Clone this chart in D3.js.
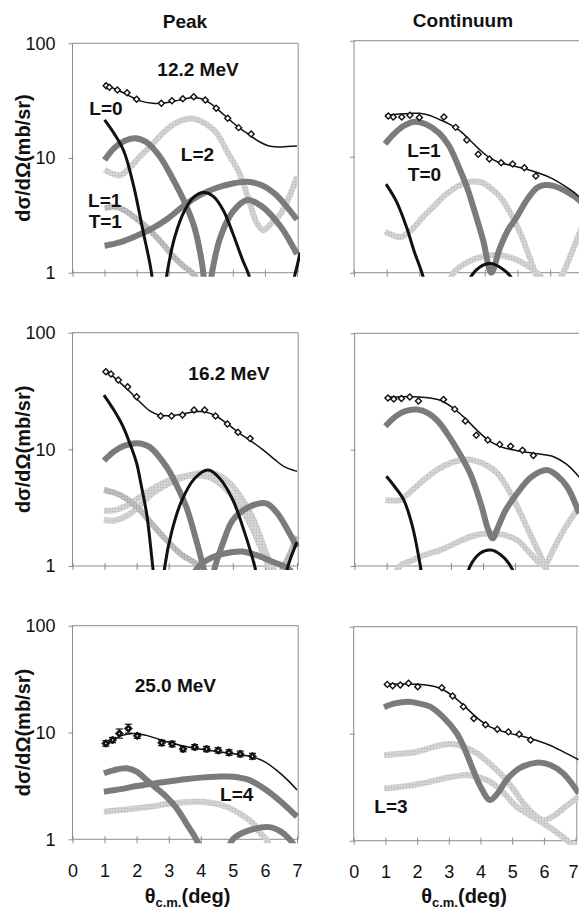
<!DOCTYPE html>
<html>
<head>
<meta charset="utf-8">
<script src="https://cdn.jsdelivr.net/npm/d3@7"></script>
<style>
  body { margin: 0; background: #fff; }
  text { font-family: "Liberation Sans", Arial, Helvetica, sans-serif; }
</style>
</head>
<body>
<svg id="chart" width="579" height="909"></svg>
<script>
// ---------------- measured angular distributions ----------------
// Peak, 12.2 MeV
const peak12Angles = [1.05, 1.15, 1.40, 1.70, 2.00, 2.77, 3.10, 3.44, 3.78, 4.14, 4.48, 4.84, 5.18, 5.57];
const peak12Values = [42.7, 41.3, 39.2, 37.1, 32.5, 30.0, 31.6, 32.9, 34.2, 32.0, 27.1, 22.2, 18.4, 16.2];
const peak12Total = [[1.0,45],[1.2,41.5],[1.5,38],[1.8,34.5],[2.1,31.5],[2.5,30],[2.9,30.3],[3.3,31.8],[3.7,33.5],[4.0,33],[4.3,30],[4.6,25.5],[4.9,21.5],[5.2,18.3],[5.5,16],[5.8,14],[6.1,12.8],[6.4,12.5],[6.7,12.6],[7.0,12.7]];
const peak12L0 = [[1.0,21.5],[1.3,16.3],[1.6,11.5],[1.9,5.8],[2.2,2.3],[2.45,1.05],[2.7,0.3],[2.95,1.0],[3.2,2.1],[3.5,3.5],[3.8,4.6],[4.1,5.0],[4.4,4.6],[4.7,3.5],[5.0,2.2],[5.3,1.3],[5.5,0.95],[5.9,0.3],[6.5,0.35],[6.95,1.0],[7.1,1.5]];
const peak12GrayA = [[1.0,9.6],[1.3,12.2],[1.6,14],[1.95,14.9],[2.3,13.8],[2.7,10.5],[3.1,6.8],[3.5,4.1],[3.8,2.5],[4.05,1.15],[4.2,0.5],[4.35,1.0],[4.6,2.0],[5.0,3.4],[5.45,4.3],[5.9,3.8],[6.5,2.5],[7.0,1.45]];
const peak12GrayB = [[1.0,1.72],[1.5,1.85],[2.0,2.1],[2.5,2.45],[3.0,3.0],[3.5,3.9],[4.0,4.8],[4.5,5.5],[5.0,6.0],[5.45,6.2],[5.9,5.8],[6.3,4.9],[6.6,4.0],[7.0,2.9]];
const peak12L2 = [[1.0,7.9],[1.25,7.3],[1.5,7.1],[1.8,8.3],[2.1,10.3],[2.45,12.8],[2.8,16.3],[3.2,20],[3.6,22],[3.9,21.5],[4.2,19.5],[4.5,16.4],[4.85,11],[5.2,7.4],[5.5,4.3],[5.75,2.7],[5.95,2.35],[6.15,2.6],[6.5,3.3],[6.8,4.9],[7.0,6.9]];
const peak12L1T1 = [[1.0,3.64],[1.3,3.75],[1.55,3.6],[1.9,3.1],[2.4,2.36],[2.8,1.8],[3.15,1.38],[3.45,1.15],[3.72,1.0],[4.0,0.8]];

// Continuum, 12.2 MeV
const cont12Angles = [1.05, 1.20, 1.46, 1.71, 2.00, 2.75, 3.11, 3.45, 3.80, 4.14, 4.50, 4.85, 5.21, 5.56];
const cont12Values = [22.4, 22.0, 22.0, 22.8, 21.8, 22.0, 17.9, 13.9, 10.5, 9.55, 8.87, 8.65, 8.04, 6.82];
const cont12Total = [[0.95,22.8],[1.3,23.2],[1.7,23.6],[2.0,23.7],[2.3,22.8],[2.6,21],[2.9,19.2],[3.2,17],[3.5,14.3],[3.8,11.8],[4.1,10],[4.4,9.0],[4.8,8.4],[5.2,7.9],[5.6,7.3],[6.0,6.6],[6.4,5.7],[6.7,5.0],[7.0,4.2]];
const cont12L1T0 = [[0.95,12.9],[1.2,15.5],[1.5,18.3],[1.85,20],[2.2,19],[2.6,16],[2.9,12.5],[3.2,8.2],[3.45,5.5],[3.7,3.3],[3.95,1.9],[4.2,1.0],[4.45,1.6],[4.7,2.3],[4.97,3.0],[5.3,4.3],[5.6,5.4],[5.85,5.7],[6.1,5.6],[6.5,5.0],[6.9,4.2],[7.0,3.9]];
const cont12Black = [[0.98,5.8],[1.3,4.1],[1.6,2.5],[1.85,1.5],[2.1,0.95],[2.4,0.4],[3.0,0.3],[3.55,0.9],[3.85,1.12],[4.16,1.2],[4.5,1.1],[4.82,0.9],[5.2,0.4]];
const cont12LightA = [[0.95,2.26],[1.2,2.1],[1.45,2.04],[1.8,2.4],[2.1,3.0],[2.45,3.75],[2.8,4.7],[3.2,5.6],[3.6,6.1],[3.9,6.0],[4.2,5.3],[4.5,4.4],[4.8,3.2],[5.1,2.15],[5.35,1.4],[5.6,0.9],[5.85,0.6],[6.1,0.7],[6.4,1.0],[6.7,1.6],[7.0,2.6]];
const cont12LightB = [[2.8,0.7],[3.05,1.0],[3.4,1.2],[3.8,1.35],[4.35,1.42],[4.8,1.35],[5.2,1.2],[5.5,1.05],[5.75,0.9],[6.0,0.7]];

// Peak, 16.2 MeV
const peak16Angles = [1.04, 1.20, 1.43, 1.72, 2.00, 2.75, 3.09, 3.43, 3.79, 4.12, 4.46, 4.83, 5.16, 5.54];
const peak16Values = [46.2, 44.2, 39.3, 34.4, 28.2, 19.3, 19.3, 19.7, 21.7, 21.7, 19.3, 16.5, 14.0, 12.4];
const peak16Total = [[0.98,47.8],[1.2,43.5],[1.5,37],[1.8,31],[2.1,25.5],[2.4,21.5],[2.7,19.7],[3.0,19.4],[3.4,20],[3.8,21],[4.1,21],[4.4,19.8],[4.8,16.8],[5.2,13.8],[5.6,11.6],[6.0,9.6],[6.3,8.2],[6.6,7.1],[6.9,6.6],[7.0,6.5]];
const peak16Black = [[0.98,29.2],[1.3,21.5],[1.58,15.6],[1.8,11],[2.0,7.6],[2.15,4.8],[2.31,2.83],[2.5,1.0],[2.7,0.3],[2.88,1.0],[3.1,2.0],[3.4,3.6],[3.8,5.6],[4.23,6.65],[4.6,5.6],[5.0,3.68],[5.35,2.0],[5.68,1.0],[6.0,0.4],[6.4,0.4],[6.72,1.0],[7.0,1.6]];
const peak16GrayA = [[0.98,8.0],[1.3,9.6],[1.6,10.7],[2.0,11.3],[2.4,10.5],[2.93,7.1],[3.25,4.9],[3.55,3.2],[3.8,1.9],[4.07,1.0],[4.25,0.6],[4.45,1.0],[4.7,1.6],[5.0,2.48],[5.5,3.2],[6.04,3.44],[6.4,2.8],[6.77,1.9],[7.0,1.45]];
const peak16GrayB = [[3.6,0.7],[3.95,1.0],[4.4,1.2],[5.0,1.32],[5.3,1.33],[5.8,1.22],[6.3,1.07],[6.65,0.98],[7.0,0.8]];
const peak16MidA = [[0.98,4.48],[1.3,4.25],[1.58,3.93],[2.1,3.02],[2.5,2.25],[2.93,1.67],[3.4,1.25],[3.97,1.0],[4.3,0.8]];
const peak16MidB = [[6.3,0.7],[6.6,1.0],[6.85,1.4],[7.0,1.8]];
const peak16LightA = [[0.98,2.98],[1.3,3.0],[1.7,3.3],[2.1,3.9],[2.5,4.6],[3.0,5.4],[3.5,5.9],[3.9,6.0],[4.3,5.7],[4.7,4.8],[5.1,3.6],[5.5,2.4],[5.8,1.6],[6.1,1.0],[6.4,0.6]];
const peak16LightB = [[0.98,2.48],[1.3,2.45],[1.7,2.7],[2.1,3.3],[2.5,4.2],[3.0,5.1],[3.5,5.8],[4.0,6.3],[4.3,6.35],[4.7,5.7],[5.0,4.8],[5.3,3.7],[5.6,2.65],[5.85,1.8],[6.04,1.28],[6.3,0.9],[6.5,0.6]];

// Continuum, 16.2 MeV
const cont16Angles = [1.04, 1.22, 1.46, 1.72, 1.99, 2.77, 3.12, 3.45, 3.79, 4.15, 4.52, 4.86, 5.23, 5.57];
const cont16Values = [27.8, 27.3, 27.5, 28.4, 26.2, 27.0, 22.3, 17.6, 13.3, 12.1, 11.1, 10.7, 9.9, 8.9];
const cont16Total = [[0.96,28.4],[1.3,28.4],[1.7,28.6],[2.0,28.4],[2.35,27.8],[2.67,26.6],[3.0,23.5],[3.4,19.1],[3.8,14.8],[4.23,11.7],[4.6,10.5],[5.0,9.9],[5.27,9.6],[5.7,9.2],[6.2,8.7],[6.6,7.5],[7.0,5.8]];
const cont16Gray = [[0.96,15.9],[1.3,19.5],[1.6,21.5],[1.94,22.1],[2.3,20.5],[2.6,17.5],[2.88,13.8],[3.2,10],[3.6,6.25],[3.95,3.3],[4.15,2.1],[4.3,1.73],[4.45,2.1],[4.7,3.0],[5.06,4.2],[5.5,5.8],[5.99,6.67],[6.3,6.0],[6.62,4.8],[7.0,2.83]];
const cont16Black = [[0.99,5.9],[1.25,4.8],[1.53,3.7],[1.8,2.2],[2.05,1.0],[2.3,0.4],[3.0,0.3],[3.6,1.0],[3.9,1.28],[4.23,1.37],[4.55,1.25],[4.9,0.95],[5.3,0.4]];
const cont16LightA = [[0.96,3.69],[1.2,3.65],[1.42,3.69],[1.8,4.5],[2.15,5.47],[2.6,6.8],[3.0,7.7],[3.3,8.1],[3.6,8.2],[4.0,7.6],[4.45,6.25],[4.8,4.5],[5.17,2.83],[5.5,1.8],[5.75,1.3],[5.94,1.05],[6.2,1.4],[6.5,2.0],[6.8,2.7],[7.0,3.23]];
const cont16LightB = [[1.2,0.8],[1.42,1.0],[1.8,1.12],[2.2,1.25],[2.67,1.37],[3.2,1.6],[3.7,1.82],[4.23,1.91],[4.65,1.85],[5.06,1.67],[5.4,1.35],[5.7,1.1],[5.9,1.0],[6.1,0.8]];

// Peak, 25.0 MeV (with error bars)
const peak25Angles = [1.04, 1.25, 1.46, 1.74, 2.02, 2.78, 3.11, 3.45, 3.81, 4.18, 4.54, 4.88, 5.23, 5.61];
const peak25Values = [7.9, 8.5, 9.8, 10.9, 9.3, 8.0, 7.8, 7.0, 7.3, 7.0, 6.8, 6.5, 6.3, 6.0];
const peak25Errors = [0.3, 0.3, 0.75, 0.8, 0.3, 0.3, 0.3, 0.25, 0.25, 0.25, 0.25, 0.25, 0.25, 0.25];
const peak25Total = [[0.98,7.6],[1.2,8.3],[1.5,9.3],[1.89,9.8],[2.3,9.4],[2.72,8.6],[3.2,7.8],[3.6,7.3],[3.97,7.0],[4.4,6.7],[4.8,6.45],[5.2,6.2],[5.63,5.9],[6.0,5.3],[6.35,4.46],[6.7,3.6],[7.0,2.9]];
const peak25GrayA = [[0.98,4.15],[1.3,4.45],[1.69,4.62],[2.0,4.3],[2.31,3.59],[2.62,3.0],[2.93,2.5],[3.25,1.95],[3.55,1.41],[3.86,1.0],[4.2,0.6],[4.6,0.6],[5.0,1.0],[5.4,1.18],[6.14,1.3],[6.5,1.18],[6.77,1.0],[7.0,0.8]];
const peak25L4 = [[0.98,2.79],[1.5,2.95],[2.0,3.15],[2.5,3.32],[2.93,3.46],[3.5,3.65],[4.0,3.78],[4.5,3.86],[5.0,3.86],[5.5,3.6],[6.04,2.9],[6.5,2.25],[7.0,1.63]];
const peak25Light = [[0.98,1.81],[1.5,1.88],[2.0,1.95],[2.43,2.02],[3.0,2.15],[3.5,2.22],[3.9,2.25],[4.3,2.2],[4.8,2.02],[5.2,1.75],[5.63,1.41],[5.85,1.15],[6.04,1.0],[6.2,0.8]];

// Continuum, 25.0 MeV
const cont25Angles = [1.06, 1.23, 1.47, 1.73, 2.02, 2.78, 3.12, 3.46, 3.79, 4.16, 4.53, 4.88, 5.22, 5.58];
const cont25Values = [28.9, 28.1, 28.5, 29.6, 27.5, 26.9, 22.5, 17.9, 13.9, 12.1, 11.0, 10.4, 9.87, 8.73];
const cont25Total = [[0.96,28.9],[1.4,29.1],[1.99,29],[2.4,28.2],[2.72,26.6],[3.1,22.8],[3.46,18.5],[3.9,14],[4.3,11.6],[4.8,10.3],[5.35,9.4],[5.8,8.6],[6.19,7.8],[6.6,6.8],[7.1,5.7]];
const cont25Gray = [[0.96,17.7],[1.3,19.2],[1.72,19.9],[2.05,19.2],[2.41,17.9],[2.8,14.5],[3.25,10.1],[3.5,7.2],[3.77,4.58],[4.0,3.2],[4.3,2.4],[4.55,2.8],[4.82,3.69],[5.2,4.7],[5.77,5.36],[6.2,5.1],[6.61,4.26],[7.1,2.77]];
const cont25LightA = [[0.96,6.32],[1.5,6.5],[1.99,6.79],[2.5,7.5],[3.03,8.0],[3.5,7.5],[3.89,6.56],[4.3,5.2],[4.72,3.96],[5.05,3.0],[5.35,2.24],[5.7,1.75],[5.98,1.56],[6.3,1.7],[6.7,2.1],[7.1,2.58]];
const cont25LightB = [[0.96,3.09],[1.5,3.2],[2.2,3.44],[2.9,3.85],[3.56,4.11],[3.9,3.95],[4.3,3.56],[4.7,2.85],[5.14,2.08],[5.6,1.7],[5.98,1.45],[6.4,1.2],[6.83,0.95],[7.1,0.8]];

// axis ticks
const xTicks = [0, 1, 2, 3, 4, 5, 6, 7];
const yTicks = [1, 10, 100];
const columnTitles = ["Peak", "Continuum"];

// ---------------- layout ----------------
const svg = d3.select("#chart");
const defs = svg.append("defs");

// dotted grey texture used for the light component curves
function texture(id, base, dot) {
  const p = defs.append("pattern").attr("id", id)
    .attr("patternUnits", "userSpaceOnUse").attr("width", 3).attr("height", 3);
  p.append("rect").attr("width", 3).attr("height", 3).attr("fill", base);
  p.append("rect").attr("x", 1).attr("y", 1).attr("width", 1).attr("height", 1).attr("fill", dot);
}
texture("texLight", "#d2d2d2", "#b3b3b3");
texture("texMid", "#bdbdbd", "#9c9c9c");

const styles = {
  light: { stroke: "url(#texLight)", width: 6 },
  mid:   { stroke: "url(#texMid)", width: 6 },
  dark:  { stroke: "#7b7b7b", width: 6 },
  black: { stroke: "#111", width: 3 }
};

const panels = [
  { id: "p1", frame: { x0: 72.5, x7: 297, top: 43.3, bottom: 272.7 }, leftCol: true, bottomRow: false,
    angles: peak12Angles, values: peak12Values, total: peak12Total,
    curves: [[peak12L2, "light"], [peak12L1T1, "mid"], [peak12GrayB, "dark"], [peak12GrayA, "dark"], [peak12L0, "black"]],
    labels: [["12.2 MeV", 198, 76], ["L=0", 106, 115], ["L=2", 197.5, 161], ["L=1", 104.7, 207], ["T=1", 105.3, 228]] },
  { id: "p2", frame: { x0: 354, x7: 582.9, top: 40.7, bottom: 272.7 }, leftCol: false, bottomRow: false,
    angles: cont12Angles, values: cont12Values, total: cont12Total,
    curves: [[cont12LightA, "light"], [cont12LightB, "light"], [cont12L1T0, "dark"], [cont12Black, "black"]],
    labels: [["L=1", 424, 157], ["T=0", 424.5, 181]] },
  { id: "p3", frame: { x0: 72.5, x7: 297, top: 332.7, bottom: 566 }, leftCol: true, bottomRow: false,
    angles: peak16Angles, values: peak16Values, total: peak16Total,
    curves: [[peak16LightA, "light"], [peak16LightB, "light"], [peak16MidA, "mid"], [peak16MidB, "mid"],
             [peak16GrayB, "dark"], [peak16GrayA, "dark"], [peak16Black, "black"]],
    labels: [["16.2 MeV", 229, 380]] },
  { id: "p4", frame: { x0: 354.6, x7: 579.3, top: 333.3, bottom: 566 }, leftCol: false, bottomRow: false,
    angles: cont16Angles, values: cont16Values, total: cont16Total,
    curves: [[cont16LightA, "light"], [cont16LightB, "light"], [cont16Gray, "dark"], [cont16Black, "black"]],
    labels: [] },
  { id: "p5", frame: { x0: 72.5, x7: 297, top: 625.7, bottom: 839.3 }, leftCol: true, bottomRow: true,
    angles: peak25Angles, values: peak25Values, errors: peak25Errors, total: peak25Total,
    curves: [[peak25Light, "light"], [peak25L4, "dark"], [peak25GrayA, "dark"]],
    labels: [["25.0 MeV", 175.3, 692], ["L=4", 236.7, 801]] },
  { id: "p6", frame: { x0: 353.7, x7: 575.6, top: 626.7, bottom: 840.7 }, leftCol: false, bottomRow: true,
    angles: cont25Angles, values: cont25Values, total: cont25Total,
    curves: [[cont25LightA, "light"], [cont25LightB, "light"], [cont25Gray, "dark"]],
    labels: [["L=3", 391, 813]] }
];

const frameColor = "#8c8c8c";
const svgWidth = +svg.attr("width");

panels.forEach(p => {
  const f = p.frame;
  const x = d3.scaleLinear().domain([0, 7]).range([f.x0, f.x7]);
  const y = d3.scaleLog().domain([1, 100]).range([f.bottom, f.top]);
  const g = svg.append("g");

  defs.append("clipPath").attr("id", "clip-" + p.id)
    .append("rect").attr("x", f.x0).attr("y", f.top - 2)
    .attr("width", f.x7 - f.x0 + 3).attr("height", f.bottom - f.top + 6);

  // frame
  const right = f.x7 + 1.2;
  g.append("path")
    .attr("d", `M${f.x0},${f.bottom}V${f.top}H${right}V${f.bottom}`)
    .attr("fill", "none").attr("stroke", frameColor).attr("stroke-width", 1);

  // x axis (ticks cross the axis line)
  const xAxis = d3.axisBottom(x).tickValues(xTicks).tickSize(7).tickSizeOuter(0).tickPadding(21)
    .tickFormat(p.bottomRow ? d3.format("d") : () => "");
  const xg = g.append("g").attr("transform", `translate(0,${f.bottom - 3})`).call(xAxis);
  xg.select(".domain").remove();
  xg.append("line").attr("x1", f.x0).attr("x2", right).attr("y1", 3).attr("y2", 3)
    .attr("stroke", frameColor);
  xg.selectAll(".tick line").attr("stroke", frameColor);
  xg.selectAll(".tick text").attr("fill", "#111").style("font-size", "18px")
    .style("font-family", '"Liberation Sans", Arial, sans-serif')
    // keep the last label inside the page edge
    .attr("dx", d => (x(d) + 6 > svgWidth ? -(x(d) + 6 - svgWidth) : 0));

  // y axis
  const yAxis = d3.axisLeft(y).tickValues(yTicks).tickSize(5).tickSizeOuter(0).tickPadding(13)
    .tickFormat(p.leftCol ? d3.format("d") : () => "");
  const yg = g.append("g").attr("transform", `translate(${f.x0 + 1},0)`).call(yAxis);
  yg.select(".domain").remove();
  yg.selectAll(".tick line").attr("stroke", frameColor);
  yg.selectAll(".tick text").attr("fill", "#111").style("font-size", "18px")
    .style("font-family", '"Liberation Sans", Arial, sans-serif');

  // component curves and total
  const line = d3.line().x(d => x(d[0])).y(d => y(d[1])).curve(d3.curveCatmullRom.alpha(0.5));
  const plot = g.append("g").attr("clip-path", `url(#clip-${p.id})`);
  p.curves.forEach(([data, kind]) => {
    plot.append("path").attr("d", line(data)).attr("fill", "none")
      .attr("stroke", styles[kind].stroke).attr("stroke-width", styles[kind].width)
      .attr("stroke-linecap", "butt").attr("stroke-linejoin", "round");
  });
  plot.append("path").attr("d", line(p.total)).attr("fill", "none")
    .attr("stroke", "#111").attr("stroke-width", 1.5);

  // data points
  const pts = p.angles.map((a, i) => ({ a, v: p.values[i], e: p.errors ? p.errors[i] : 0 }));
  if (p.errors) {
    const eb = g.append("g").attr("stroke", "#111").attr("stroke-width", 1.2);
    pts.forEach(d => {
      const yl = y(d.v - d.e), yh = y(d.v + d.e), cx = x(d.a);
      eb.append("line").attr("x1", cx).attr("x2", cx).attr("y1", yl - 1).attr("y2", yh - 1);
      eb.append("line").attr("x1", cx - 3.5).attr("x2", cx + 3.5).attr("y1", yh - 1).attr("y2", yh - 1);
      eb.append("line").attr("x1", cx - 3.5).attr("x2", cx + 3.5).attr("y1", yl + 1).attr("y2", yl + 1);
    });
    const sym = d3.symbol(d3.symbolSquare, 32)();
    g.selectAll(null).data(pts).join("path")
      .attr("d", sym).attr("transform", d => `translate(${x(d.a)},${y(d.v)}) rotate(45)`)
      .attr("fill", "#111").attr("stroke", "#111").attr("stroke-width", 0.8);
    g.selectAll(null).data(pts).join("circle")
      .attr("cx", d => x(d.a)).attr("cy", d => y(d.v)).attr("r", 0.8).attr("fill", "#fff");
  } else {
    const sym = d3.symbol(d3.symbolSquare, 18)();
    g.selectAll(null).data(pts).join("path")
      .attr("d", sym).attr("transform", d => `translate(${x(d.a)},${y(d.v)}) rotate(45)`)
      .attr("fill", "#fff").attr("stroke", "#111").attr("stroke-width", 1.4);
  }

  // panel labels
  p.labels.forEach(([t, lx, ly]) => {
    g.append("text").attr("x", lx).attr("y", ly).attr("text-anchor", "middle")
      .style("font-size", "19px").style("font-weight", "bold").attr("fill", "#111").text(t);
  });

  // y title on the left column
  if (p.leftCol) {
    g.append("text").attr("transform", `translate(30,${y(10)}) rotate(-90)`)
      .attr("text-anchor", "middle").style("font-size", "20px").style("font-weight", "bold")
      .attr("fill", "#111").text("dσ/dΩ(mb/sr)");
  }

  // x title on the bottom row
  if (p.bottomRow) {
    const cx = p.leftCol ? 187.5 : 464;
    const t = g.append("text").attr("x", cx).attr("y", 903).attr("text-anchor", "middle")
      .style("font-size", "20px").style("font-weight", "bold").attr("fill", "#111");
    t.append("tspan").text("θ");
    t.append("tspan").attr("dy", 4).style("font-size", "13px").text("c.m.");
    t.append("tspan").attr("dy", -4).text("(deg)");
  }
});

// column titles
svg.selectAll(null).data(columnTitles).join("text")
  .attr("x", (d, i) => i === 0 ? 185 : 463).attr("y", (d, i) => i === 0 ? 28 : 27)
  .attr("text-anchor", "middle").style("font-size", "19px").style("font-weight", "bold")
  .attr("fill", "#111").text(d => d);
</script>
</body>
</html>
